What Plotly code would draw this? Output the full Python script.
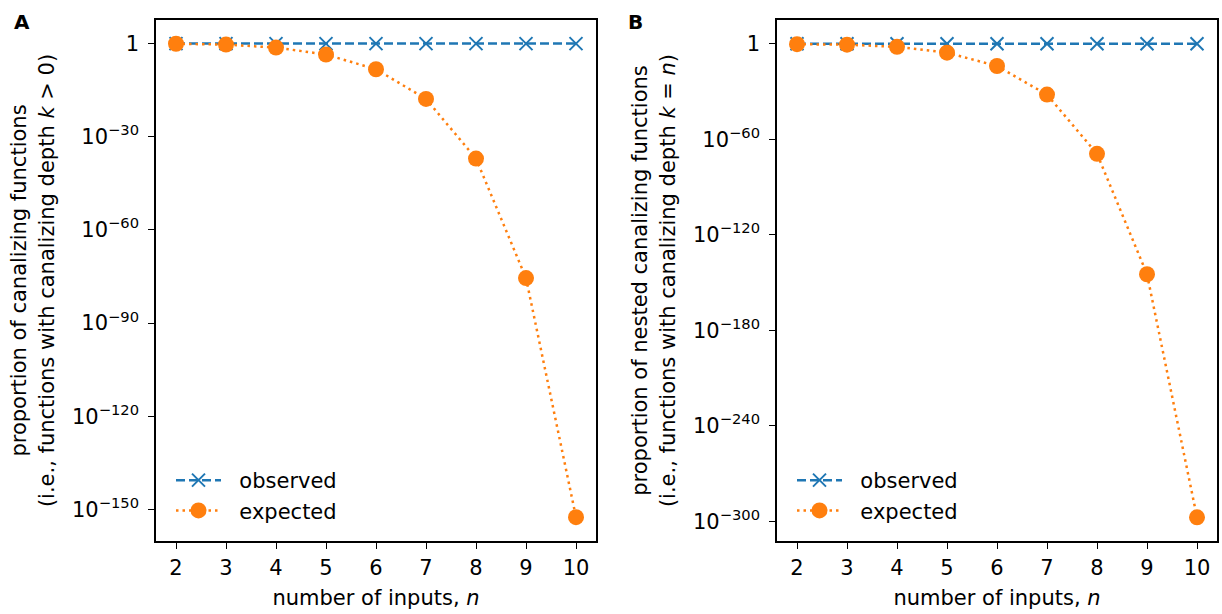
import plotly.graph_objects as go

n_inputs = [2, 3, 4, 5, 6, 7, 8, 9, 10]

# Panel A: proportion of canalizing functions
obs_A = [1, 1, 1, 1, 1, 1, 1, 1, 1]
exp_A = [0.875, 0.469, 0.0536, 3.0e-4, 5.6e-9, 1.5e-18, 9.4e-38, 3.1e-76, 3.0e-153]

# Panel B: proportion of nested canalizing functions
obs_B = [1, 1, 1, 1, 1, 1, 1, 1, 1]
exp_B = [0.5, 0.25, 0.0112, 2.47e-6, 9.97e-15, 1.09e-32, 7.4e-70, 1.66e-145, 3.6e-298]

ticks_A = [1, 1e-30, 1e-60, 1e-90, 1e-120, 1e-150]
ticktext_A = ["1", "10<sup>−30</sup>", "10<sup>−60</sup>", "10<sup>−90</sup>",
              "10<sup>−120</sup>", "10<sup>−150</sup>"]
ticks_B = [1, 1e-60, 1e-120, 1e-180, 1e-240, 1e-300]
ticktext_B = ["1", "10<sup>−60</sup>", "10<sup>−120</sup>", "10<sup>−180</sup>",
              "10<sup>−240</sup>", "10<sup>−300</sup>"]

BLUE = "#1f77b4"
ORANGE = "#ff7f0e"
FONT = "DejaVu Sans"
FS = 21
NB = "\u00a0\u00a0"

fig = go.Figure()

def add_panel(xa, ya, obs, exp, legend):
    fig.add_trace(go.Scatter(
        x=n_inputs, y=obs, name=NB + "observed", mode="lines+markers",
        xaxis=xa, yaxis=ya, legend=legend,
        line=dict(color=BLUE, width=2.5, dash="9px,4px"),
        marker=dict(symbol="x-thin", size=13, line=dict(color=BLUE, width=2)),
    ))
    fig.add_trace(go.Scatter(
        x=n_inputs, y=exp, name=NB + "expected", mode="lines+markers",
        xaxis=xa, yaxis=ya, legend=legend,
        line=dict(color=ORANGE, width=2.5, dash="2.5px,4px"),
        marker=dict(symbol="circle", size=16, color=ORANGE),
    ))

add_panel("x", "y", obs_A, exp_A, "legend")
add_panel("x2", "y2", obs_B, exp_B, "legend2")

ybot = 1 - 541 / 614
ytop = 1 - 20 / 614

axis_common = dict(
    showline=True, linecolor="black", linewidth=1.5, mirror=True,
    ticks="outside", ticklen=6, tickwidth=1.3, tickcolor="black",
    showgrid=False, zeroline=False, ticklabelstandoff=5,
    tickfont=dict(family=FONT, size=FS, color="black"),
)

xaxis_common = dict(axis_common, range=[1.6, 10.4], tickvals=n_inputs,
                    ticklabelstandoff=1,
                    title=dict(text="number of inputs, <i>n</i>",
                               font=dict(family=FONT, size=FS, color="black"),
                               standoff=11))

fig.update_layout(
    width=1222, height=614,
    paper_bgcolor="white", plot_bgcolor="white",
    margin=dict(l=0, r=0, t=0, b=0),
    font=dict(family=FONT, size=FS, color="black"),
    xaxis=dict(xaxis_common, domain=[156 / 1222, 596 / 1222], anchor="y"),
    xaxis2=dict(xaxis_common, domain=[777 / 1222, 1217 / 1222], anchor="y2"),
    yaxis=dict(axis_common, type="log", range=[-160.2, 7.6], domain=[ybot, ytop],
               anchor="x", tickvals=ticks_A, ticktext=ticktext_A,
               title=dict(text="proportion of canalizing functions<br>(i.e., functions with canalizing depth <i>k</i> > 0)",
                          font=dict(family=FONT, size=FS, color="black"), standoff=12)),
    yaxis2=dict(axis_common, type="log", range=[-312.3, 14.9], domain=[ybot, ytop],
                anchor="x2", tickvals=ticks_B, ticktext=ticktext_B,
                title=dict(text="proportion of nested canalizing functions<br>(i.e., functions with canalizing depth <i>k</i> = <i>n</i>)",
                           font=dict(family=FONT, size=FS, color="black"), standoff=12)),
    legend=dict(x=171 / 1222, y=1 - 460 / 614, xanchor="left", yanchor="top",
                bgcolor="rgba(255,255,255,0)", font=dict(family=FONT, size=FS),
                itemwidth=45, tracegroupgap=0),
    legend2=dict(x=792 / 1222, y=1 - 460 / 614, xanchor="left", yanchor="top",
                 bgcolor="rgba(255,255,255,0)", font=dict(family=FONT, size=FS),
                 itemwidth=45, tracegroupgap=0),
    annotations=[
        dict(text="<b>A</b>", x=12 / 1222, y=1 - 22 / 614, xref="paper", yref="paper",
             xanchor="left", yanchor="middle", showarrow=False,
             font=dict(family=FONT, size=20, color="black")),
        dict(text="<b>B</b>", x=626 / 1222, y=1 - 22 / 614, xref="paper", yref="paper",
             xanchor="left", yanchor="middle", showarrow=False,
             font=dict(family=FONT, size=20, color="black")),
    ],
)

fig.write_html("out.html", config={"displayModeBar": False},
               post_script="document.body.style.margin='0';document.body.style.padding='0';")
